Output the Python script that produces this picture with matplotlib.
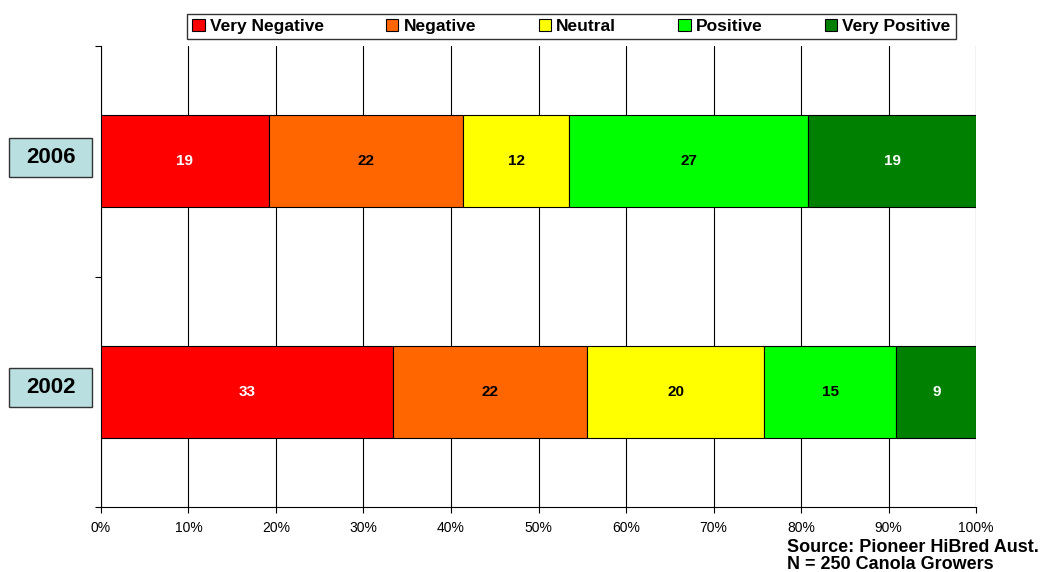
import numpy as np
import matplotlib.pyplot as plt
from matplotlib.patches import Patch, Rectangle

plt.rcParams['font.family'] = ['Liberation Sans', 'DejaVu Sans']

# Survey responses (counts of growers, in %), bars are scaled to 100%
years = ['2002', '2006']
categorias = ['Very Negative', 'Negative', 'Neutral', 'Positive', 'Very Positive']
valores = {
    '2002': [33, 22, 20, 15, 9],
    '2006': [19, 22, 12, 27, 19],
}
cores = ['#FF0000', '#FF6600', '#FFFF00', '#00FF00', '#008000']
cor_texto = ['white', 'black', 'black', 'black', 'white']

fig = plt.figure(figsize=(10.43, 5.72), dpi=100)
ax = fig.add_axes([0.0968, 0.1136, 0.839, 0.806])

dados = np.array([valores[a] for a in years], dtype=float)
percent = dados / dados.sum(axis=1, keepdims=True) * 100
esquerda = np.zeros(len(years))
for i, cat in enumerate(categorias):
    ax.barh(np.arange(len(years)), percent[:, i], left=esquerda, height=0.40,
            color=cores[i], edgecolor='black', linewidth=0.8, zorder=3)
    for j in range(len(years)):
        ax.text(esquerda[j] + percent[j, i] / 2, j, f'{int(dados[j, i])}',
                ha='center', va='center', fontsize=11, fontweight='bold',
                color=cor_texto[i], zorder=4)
    esquerda += percent[:, i]

ax.set_xlim(0, 100)
ax.set_ylim(-0.5, 1.5)
ax.set_xticks(np.arange(0, 101, 10))
ax.set_xticklabels([f'{v}%' for v in range(0, 101, 10)], fontsize=10)
ax.set_yticks([-0.5, 0.5, 1.5])
ax.set_yticklabels([])
ax.tick_params(axis='both', direction='out', length=4, width=0.8, colors='black')
ax.tick_params(axis='x', pad=6)
ax.xaxis.grid(True, color='black', linewidth=0.8, zorder=0)
ax.spines['top'].set_visible(False)
ax.spines['right'].set_visible(False)

# Year labels in boxes on the left (box in axes-x / data-y coordinates)
trans = ax.get_yaxis_transform()
for j, a in enumerate(years):
    yc = j + 0.017
    ax.add_patch(Rectangle((-0.105, yc - 0.085), 0.095, 0.17, transform=trans,
                           facecolor='#B9DFE1', edgecolor='#333333', linewidth=1.0,
                           clip_on=False, zorder=5))
    ax.text(-0.0575, yc, a, ha='center', va='center', fontsize=16, fontweight='bold',
            transform=trans, clip_on=False, zorder=6)

handles = [Patch(facecolor=c, edgecolor='black', linewidth=0.8) for c in cores]
fig.legend(handles, categorias, loc='center', bbox_to_anchor=(0.548, 0.954), ncol=5,
           prop={'size': 12.5, 'weight': 'bold'}, frameon=True, fancybox=False,
           edgecolor='black', handlelength=0.7, handleheight=0.7, handletextpad=0.3,
           columnspacing=3.6, borderpad=0.3)
fig.legends[0].get_frame().set_linewidth(1.0)

fig.text(0.755, 0.028, 'Source: Pioneer HiBred Aust.\nN = 250 Canola Growers',
         ha='left', va='center', fontsize=13, fontweight='bold', linespacing=1.0)

fig.savefig('out.png', dpi=100)
